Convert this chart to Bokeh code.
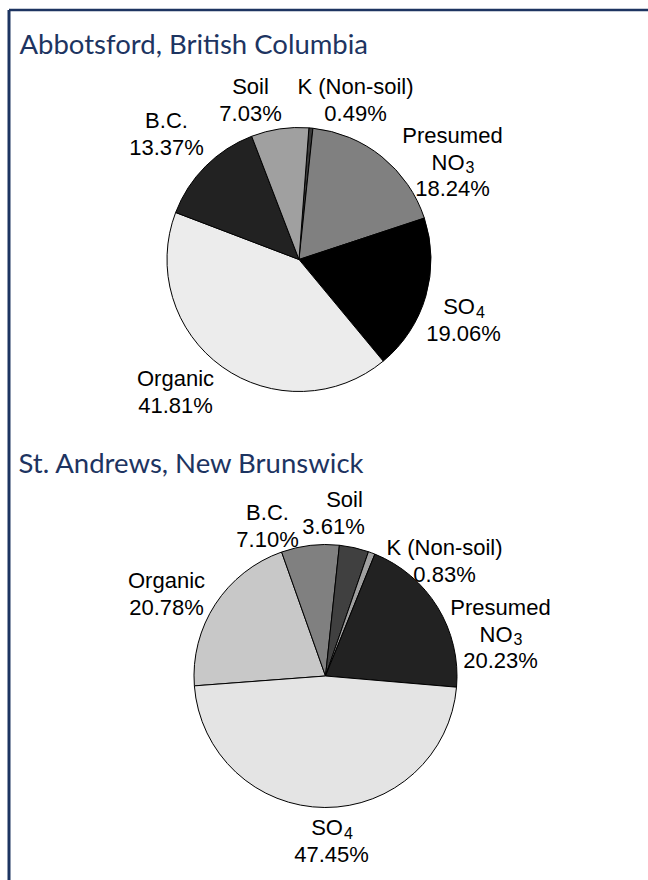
import numpy as np
from bokeh.plotting import figure
from bokeh.models import Range1d, ColumnDataSource
from bokeh.core.properties import value
from bokeh.embed import file_html
from bokeh.resources import INLINE

# ---------------- data ----------------
abb_title = "Abbotsford, British Columbia"
abb_categories = ["K (Non-soil)", "Presumed NO_3", "SO_4", "Organic", "B.C.", "Soil"]
abb_values = [0.49, 18.24, 19.06, 41.81, 13.37, 7.03]
abb_colors = ["#3a3a3a", "#808080", "#000000", "#ececec", "#222222", "#a0a0a0"]

sta_title = "St. Andrews, New Brunswick"
sta_categories = ["Organic", "B.C.", "Soil", "K (Non-soil)", "Presumed NO_3", "SO_4"]
sta_values = [20.78, 7.10, 3.61, 0.83, 20.23, 47.45]
sta_colors = ["#c8c8c8", "#808080", "#404040", "#a0a0a0", "#222222", "#e4e4e4"]

# ---------------- layout (screen px) ----------------
W, H = 648, 880
FONT = "Liberation Sans"
FS = 22
SUBFS = 16
LH = 26.5
NAVY = "#1d3461"

# label anchor (centre x, first baseline y, x shift of the value line) per category
abb_label_pos = [(355, 86, 0), (452, 135, 0), (463, 306, 0), (175, 378, 0), (166, 120, 0), (250, 86, 0)]
sta_label_pos = [(166, 580, 0), (267, 512, 0), (344, 499, -11), (444, 547, 0), (500, 607, 0), (331, 827, 0)]

p = figure(width=W, height=H, x_range=Range1d(0, W), y_range=Range1d(0, H),
           output_backend="svg", toolbar_location=None, min_border=0)
p.axis.visible = False
p.grid.visible = False
p.outline_line_color = None
p.background_fill_color = "white"
p.border_fill_color = "white"


def Y(sy):
    return H - sy


def draw_pie(values, colors, cx, cy, r, start_cw):
    vals = np.asarray(values, dtype=float)
    frac = vals / vals.sum()
    cum = np.concatenate([[0.0], np.cumsum(frac)]) * 360.0 + start_cw
    a0 = cum[:-1]
    a1 = cum[1:]
    src = ColumnDataSource(dict(
        x=[cx] * len(vals), y=[Y(cy)] * len(vals),
        start=np.deg2rad(90.0 - a1), end=np.deg2rad(90.0 - a0),
        color=colors))
    p.wedge(x="x", y="y", radius=r, start_angle="start", end_angle="end",
            fill_color="color", line_color="black", line_width=1, source=src)


def draw_label(lines, cx, y0, dx_last):
    for i, ln in enumerate(lines):
        by = y0 + i * LH
        x = cx + (dx_last if i == len(lines) - 1 else 0)
        if "_" in ln:
            main, sub = ln.split("_")
            wmain = {"NO": 1.5, "SO": 1.445}[main] * FS
            wsub = 0.556 * SUBFS
            split = x + (wmain - wsub) / 2.0
            p.text(x=[split], y=[Y(by)], text=[main], text_align="right",
                   text_baseline="alphabetic", text_font=value(FONT),
                   text_font_size=f"{FS}px", text_color="black")
            p.text(x=[split + 1], y=[Y(by + 5)], text=[sub], text_align="left",
                   text_baseline="alphabetic", text_font=value(FONT),
                   text_font_size=f"{SUBFS}px", text_color="black")
        else:
            p.text(x=[x], y=[Y(by)], text=[ln], text_align="center",
                   text_baseline="alphabetic", text_font=value(FONT),
                   text_font_size=f"{FS}px", text_color="black")


def label_lines(cat, v):
    if cat.startswith("Presumed"):
        lines = ["Presumed", cat.split(" ")[1]]
    else:
        lines = [cat]
    return lines + [f"{v:.2f}%"]


# pies
draw_pie(abb_values, abb_colors, 298.5, 259, 132, 4.3)
draw_pie(sta_values, sta_colors, 325, 675.5, 131.5, 265.7)

for cat, v, (lx, ly, dx) in zip(abb_categories, abb_values, abb_label_pos):
    draw_label(label_lines(cat, v), lx, ly, dx)
for cat, v, (lx, ly, dx) in zip(sta_categories, sta_values, sta_label_pos):
    draw_label(label_lines(cat, v), lx, ly, dx)

# titles
p.text(x=[19], y=[Y(43)], text=[abb_title], text_align="left", text_baseline="alphabetic",
       text_font=value("Lato"), text_font_size="27.5px", text_color=NAVY)
p.text(x=[18], y=[Y(462)], text=[sta_title], text_align="left", text_baseline="alphabetic",
       text_font=value("Lato"), text_font_size="27.5px", text_color=NAVY)

# frame lines (top and left)
p.segment(x0=[8.5], y0=[Y(9.5)], x1=[W], y1=[Y(9.5)], line_color=NAVY, line_width=2.5)
p.segment(x0=[8.5], y0=[Y(9.5)], x1=[8.5], y1=[0], line_color=NAVY, line_width=3)

open("out.html", "w").write(file_html(p, INLINE))
